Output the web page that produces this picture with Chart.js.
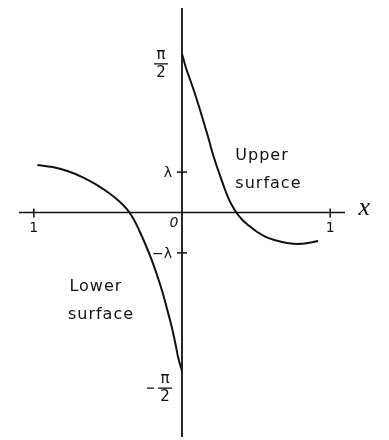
<!DOCTYPE html>
<html>
<head>
<meta charset="utf-8">
<script src="https://cdn.jsdelivr.net/npm/chart.js@4"></script>
<style>
  html, body { margin: 0; padding: 0; background: #fff; }
  canvas { display: block; }
</style>
</head>
<body>
<canvas id="grafico" width="389" height="440"></canvas>
<script>
const PI2 = Math.PI / 2;
const lambda = 0.4;

// upper surface, x from 0 to 1
const upperX = [0, 0.027, 0.053, 0.079, 0.105, 0.130, 0.156, 0.182, 0.206, 0.232, 0.258, 0.284, 0.310, 0.336,
  0.369, 0.408, 0.455, 0.508, 0.568, 0.636, 0.709, 0.784, 0.851, 0.919];
const upperY = [PI2, 1.431, 1.322, 1.213, 1.094, 0.975, 0.847, 0.718, 0.589, 0.470, 0.361, 0.252, 0.153, 0.074,
  -0.005, -0.074, -0.134, -0.193, -0.243, -0.277, -0.302, -0.312, -0.302, -0.282];

// lower surface, x from -1 to 0
const lowerX = [-0.976, -0.874, -0.774, -0.673, -0.573, -0.493, -0.426, -0.373, -0.327, -0.287, -0.248, -0.210,
  -0.171, -0.132, -0.101, -0.069, -0.044, -0.025, 0];
const lowerY = [0.470, 0.450, 0.411, 0.351, 0.272, 0.193, 0.114, 0.035, -0.064, -0.183, -0.312, -0.450,
  -0.609, -0.787, -0.955, -1.134, -1.302, -1.441, -PI2];

// ticks
const xTicks = [-1, 1];
const xTickLabels = ['1', '1'];
const yTicks = [lambda, -lambda];
const yTickLabels = ['λ', '−λ'];

const INK = '#111';

function pontos(xs, ys) {
  return xs.map((x, i) => ({ x: x, y: ys[i] }));
}

function fracao(ctx, x, y, num, den, sinal) {
  ctx.font = '15px "DejaVu Sans"';
  ctx.textAlign = 'center';
  ctx.textBaseline = 'middle';
  ctx.fillText(num, x, y - 9);
  ctx.fillText(den, x, y + 9);
  ctx.lineWidth = 1.3;
  ctx.beginPath();
  ctx.moveTo(x - 7, y);
  ctx.lineTo(x + 7, y);
  ctx.stroke();
  if (sinal) {
    ctx.beginPath();
    ctx.moveTo(x - 18, y);
    ctx.lineTo(x - 11, y);
    ctx.stroke();
  }
}

const eixos = {
  id: 'eixos',
  beforeDatasetsDraw(chart) {
    const ctx = chart.ctx;
    const area = chart.chartArea;
    const sx = chart.scales.x, sy = chart.scales.y;
    const x0 = sx.getPixelForValue(0);
    const y0 = sy.getPixelForValue(0);
    ctx.save();
    ctx.strokeStyle = INK;
    ctx.lineWidth = 1.6;
    ctx.beginPath();
    ctx.moveTo(area.left, y0);
    ctx.lineTo(area.right, y0);
    ctx.stroke();
    ctx.lineWidth = 1.8;
    ctx.beginPath();
    ctx.moveTo(x0, area.top);
    ctx.lineTo(x0, area.bottom);
    ctx.stroke();

    ctx.lineWidth = 1.5;
    xTicks.forEach(v => {
      const px = sx.getPixelForValue(v);
      ctx.beginPath();
      ctx.moveTo(px, y0 - 4);
      ctx.lineTo(px, y0 + 5);
      ctx.stroke();
    });
    yTicks.forEach(v => {
      const py = sy.getPixelForValue(v);
      ctx.beginPath();
      ctx.moveTo(x0 - 5, py);
      ctx.lineTo(x0 + 5, py);
      ctx.stroke();
    });
    ctx.restore();
  },
  afterDatasetsDraw(chart) {
    const ctx = chart.ctx;
    const sx = chart.scales.x, sy = chart.scales.y;
    const x0 = sx.getPixelForValue(0);
    const y0 = sy.getPixelForValue(0);
    ctx.save();
    ctx.fillStyle = INK;
    ctx.strokeStyle = INK;

    ctx.font = '14px "DejaVu Sans"';
    ctx.textAlign = 'center';
    ctx.textBaseline = 'middle';
    xTicks.forEach((v, i) => {
      ctx.fillText(xTickLabels[i], sx.getPixelForValue(v), y0 + 16);
    });
    yTicks.forEach((v, i) => {
      ctx.textAlign = 'right';
      ctx.fillText(yTickLabels[i], x0 - 10, sy.getPixelForValue(v) + 1);
    });

    ctx.font = 'italic 14px "DejaVu Sans"';
    ctx.textAlign = 'center';
    ctx.fillText('0', x0 - 8, y0 + 11);

    fracao(ctx, x0 - 21, sy.getPixelForValue(PI2) + 10, 'π', '2', false);
    fracao(ctx, x0 - 17, sy.getPixelForValue(-PI2) + 17, 'π', '2', true);

    ctx.font = 'italic 26px "Liberation Serif"';
    ctx.textAlign = 'center';
    ctx.fillText('x', sx.getPixelForValue(1.23), y0 - 4);

    ctx.font = '16px "DejaVu Sans"';
    ctx.letterSpacing = '1px';
    ctx.textAlign = 'left';
    ctx.fillText('Upper', sx.getPixelForValue(0.36), sy.getPixelForValue(0.56));
    ctx.fillText('surface', sx.getPixelForValue(0.36), sy.getPixelForValue(0.28));
    ctx.fillText('Lower', sx.getPixelForValue(-0.76), sy.getPixelForValue(-0.74));
    ctx.fillText('surface', sx.getPixelForValue(-0.77), sy.getPixelForValue(-1.01));
    ctx.restore();
  }
};

new Chart(document.getElementById('grafico'), {
  type: 'scatter',
  data: {
    datasets: [
      {
        label: 'Upper surface',
        data: pontos(upperX, upperY),
        showLine: true,
        borderColor: INK,
        borderWidth: 2,
        pointRadius: 0,
        tension: 0.4
      },
      {
        label: 'Lower surface',
        data: pontos(lowerX, lowerY),
        showLine: true,
        borderColor: INK,
        borderWidth: 2,
        pointRadius: 0,
        tension: 0.4
      }
    ]
  },
  options: {
    responsive: false,
    animation: false,
    layout: { padding: { left: 19, right: 44, top: 8, bottom: 3 } },
    plugins: {
      legend: { display: false },
      tooltip: { enabled: false }
    },
    scales: {
      x: { type: 'linear', min: -1.1, max: 1.1, display: false },
      y: { type: 'linear', min: -2.223, max: 2.025, display: false }
    }
  },
  plugins: [eixos]
});
</script>
</body>
</html>
